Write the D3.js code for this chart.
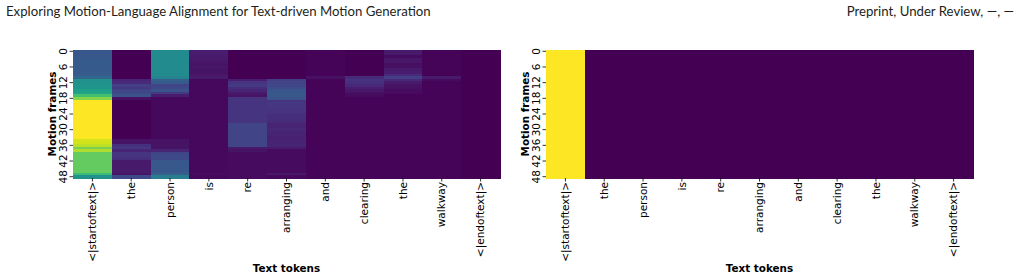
<!DOCTYPE html>
<html>
<head>
<meta charset="utf-8">
<script src="https://cdn.jsdelivr.net/npm/d3@7"></script>
<style>
  body { margin: 0; background: #fff; }
  svg { display: block; }
</style>
</head>
<body>
<svg id="fig" width="1021" height="279"></svg>
<script>
// text tokens (columns) and y tick labels
const tokens = ["<|startoftext|>", "the", "person", "is", "re", "arranging", "and", "clearing", "the", "walkway", "<|endoftext|>"];
const nFrames = 49;
const frameTicks = [0, 6, 12, 18, 24, 30, 36, 42, 48];

// left map: attention per frame (rows 0..48) for each token
const attStart = [0.27,0.27,0.27,0.28,0.28,0.28,0.28,0.28,0.28,0.29, 0.33,
  0.5,0.5,0.52,0.52, 0.56,0.58, 0.7, 0.82,
  1,1,1,1,1,1,1,1,1,1,1,1,1,1,1,
  0.93,0.93,0.9, 0.8, 0.88,
  0.76,0.76,0.76,0.76,0.76,0.76,0.76,0.76, 0.68, 0.5];
const attThe1 = [0,0,0,0,0,0,0,0,0,0,0,
  0.1,0.12, 0.18,0.16, 0.2,0.22, 0.25, 0.04,
  0,0,0,0,0,0,0,0,0,0,0,0,0,0,0,
  0.05,0.05, 0.14,0.16, 0.1, 0.15,0.15,0.14,
  0.07,0.07,0.07,0.07,0.07, 0.05, 0.22];
const attPerson = [0.48,0.48,0.48,0.48,0.48,0.48,0.48,0.48,0.48,0.48,0.45,
  0.3,0.28, 0.2,0.22, 0.25, 0.17, 0.08,
  0.02,0.02,0.02,0.02,0.02,0.02,0.02,0.02,0.02,0.02,0.02,0.02,0.02,0.02,0.02,0.02,
  0.05,0.05,0.05,0.05, 0.1, 0.2,0.22,0.22,
  0.27,0.27,0.27,0.27,0.27, 0.3, 0.42];
const attIs = [0.08,0.08,0.07,0.07,0.06,0.05,0.06,0.05,0.05,0.06,0.07,
  0.02,0.02,0.02,0.02,0.02,0.02,0.02,0.02,0.02,0.02,0.02,0.02,0.02,0.02,0.02,0.02,0.02,0.02,0.02,
  0.02,0.02,0.02,0.02,0.02,0.02,0.02,0.02,0.02,0.02,0.02,0.02,0.02,0.02,0.02,0.02,0.02,0.03,0.02];
const attRe = [0,0,0,0,0,0,0,0,0,0,0,
  0.08, 0.15, 0.17, 0.13, 0.1, 0.07, 0.05,
  0.15,0.15,0.15,0.15,0.15,0.15,0.15,0.15,0.15,0.15,
  0.2,0.2,0.2,0.2,0.2,0.2,0.2,0.2,0.2,
  0.07,0.05,
  0.03,0.03,0.03,0.03,0.03,0.03,0.03,0.03,0.03,0.03];
const attArranging = [0,0,0,0,0,0,0,0,0,0,0,
  0.18,0.2,0.21,0.23, 0.26,0.27,0.27,0.25,
  0.15,0.16,0.16,0.15,0.15,0.14,0.13,0.13,0.12,
  0.1,0.1,0.11,0.1,0.1,0.09,0.09,0.1,0.1,0.07,
  0.03,0.03,0.03,0.03,0.03,0.03,0.03,0.03,0.03, 0.06, 0.02];
const attAnd = [0.01,0.01,0.01,0.01,0.01,0.01,0.01,0.01,0.01,0.01,0.04,
  0.01,0.01,0.01,0.01,0.01,0.01,0.01,0.01,0.01,0.01,0.01,0.01,0.01,0.01,0.01,0.01,0.01,0.01,0.01,
  0.01,0.01,0.01,0.01,0.01,0.01,0.01,0.01,0.01,0.01,0.01,0.01,0.01,0.01,0.01,0.01,0.01,0.01,0.01];
const attClearing = [0,0,0,0,0,0,0,0,0,0, 0.12, 0.15,0.14, 0.11, 0.08,0.06, 0.04,0.03,
  0.01,0.01,0.01,0.01,0.01,0.01,0.01,0.01,0.01,0.01,0.01,0.01,0.01,0.01,0.01,0.01,
  0.01,0.01,0.01,0.01,0.01,0.01,0.01,0.01,0.01,0.01,0.01,0.01,0.01,0.01,0.01];
const attThe2 = [0.07,0.07, 0.03, 0.06,0.06, 0.04,0.04, 0.07,0.08, 0.12, 0.18, 0.11, 0.07,
  0.05,0.04,0.03,0.03,
  0.01,0.01,0.01,0.01,0.01,0.01,0.01,0.01,0.01,0.01,0.01,0.01,0.01,0.01,0.01,0.01,
  0.01,0.01,0.01,0.01,0.01,0.01,0.01,0.01,0.01,0.01,0.01,0.01,0.01,0.01,0.01,0.01];
const attWalkway = [0.01,0.01,0.01,0.01,0.01,0.01,0.01,0.01,0.01,0.01, 0.07, 0.03,
  0.01,0.01,0.01,0.01,0.01,0.01,0.01,0.01,0.01,0.01,0.01,0.01,0.01,0.01,0.01,0.01,0.01,
  0.01,0.01,0.01,0.01,0.01,0.01,0.01,0.01,0.01,0.01,0.01,0.01,0.01,0.01,0.01,0.01,0.01,0.01,0.01,0.01];
const attEnd = [0,0,0,0,0,0,0,0,0,0,0,0,0,0,0,0,0,0,0,0,0,0,0,0,0,
  0,0,0,0,0,0,0,0,0,0,0,0,0,0,0,0,0,0,0,0,0,0,0,0];

const leftCols = [attStart, attThe1, attPerson, attIs, attRe, attArranging, attAnd, attClearing, attThe2, attWalkway, attEnd];

// right map: every frame attends only to the start token (columns are uniform)
const rightColValue = [1, 0, 0, 0, 0, 0, 0, 0, 0, 0, 0];

const svg = d3.select("#fig");

// running header
const hdr = (sel) => sel.style("font-family", "Lato, 'Open Sans', sans-serif").style("font-size", "13.2px").style("fill", "#231f20");
svg.append("text").call(hdr).attr("x", 6).attr("y", 16)
  .text("Exploring Motion-Language Alignment for Text-driven Motion Generation");
svg.append("text").call(hdr).attr("x", 1014).attr("y", 16).attr("text-anchor", "end")
  .text("Preprint, Under Review, \u2014, \u2014");

const frames = d3.range(nFrames);

function tickFont(sel) {
  sel.style("font-family", "'DejaVu Sans', sans-serif").style("font-size", "10.5px").style("fill", "#000");
}
function labelFont(sel) {
  sel.style("font-family", "'DejaVu Sans', sans-serif").style("font-size", "10.4px")
    .style("font-weight", "bold").style("fill", "#000");
}

function drawMap(x0, x1, valueAt) {
  const top = 50, bottom = 178;
  const x = d3.scaleBand().domain(d3.range(tokens.length)).range([x0, x1]);
  const y = d3.scaleBand().domain(frames).range([top, bottom]);

  const cells = [];
  tokens.forEach((t, i) => frames.forEach(f => cells.push({i, f, v: valueAt(i, f)})));
  const ext = d3.extent(cells, d => d.v);
  const color = d3.scaleSequential(d3.interpolateViridis).domain(ext[0] === ext[1] ? [0, 1] : ext);

  const g = svg.append("g").attr("shape-rendering", "crispEdges");
  g.selectAll("rect").data(cells).join("rect")
    .attr("x", d => x(d.i))
    .attr("y", d => y(d.f))
    .attr("width", x.bandwidth() + 0.5)
    .attr("height", y.bandwidth() + 0.5)
    .attr("fill", d => color(d.v));

  // y axis
  const ya = svg.append("g").attr("transform", `translate(${x0},0)`)
    .call(d3.axisLeft(y).tickValues(frameTicks).tickSize(3.5).tickPadding(0));
  ya.select(".domain").remove();
  ya.selectAll(".tick line").attr("stroke", "#000").attr("stroke-width", 0.8);
  ya.selectAll(".tick text")
    .call(tickFont)
    .attr("x", null).attr("dy", null)
    .attr("text-anchor", "middle")
    .attr("transform", "translate(-6,0) rotate(-90)");

  // x axis
  const xa = svg.append("g").attr("transform", `translate(0,${bottom})`)
    .call(d3.axisBottom(x).tickSize(3.5).tickFormat(i => tokens[i]));
  xa.select(".domain").remove();
  xa.selectAll(".tick line").attr("stroke", "#000").attr("stroke-width", 0.8);
  xa.selectAll(".tick text")
    .call(tickFont)
    .attr("y", null).attr("dy", "0.35em")
    .attr("text-anchor", "end")
    .attr("transform", "translate(0,4) rotate(-90)");

  svg.append("text").call(labelFont)
    .attr("transform", `translate(${x0 - 17},${(top + bottom) / 2}) rotate(-90)`)
    .attr("text-anchor", "middle")
    .text("Motion frames");
  svg.append("text").call(labelFont)
    .attr("x", (x0 + x1) / 2).attr("y", 272)
    .attr("text-anchor", "middle")
    .text("Text tokens");
}

drawMap(73, 500, (i, f) => leftCols[i][f]);
drawMap(546, 973, (i, f) => rightColValue[i]);
</script>
</body>
</html>
